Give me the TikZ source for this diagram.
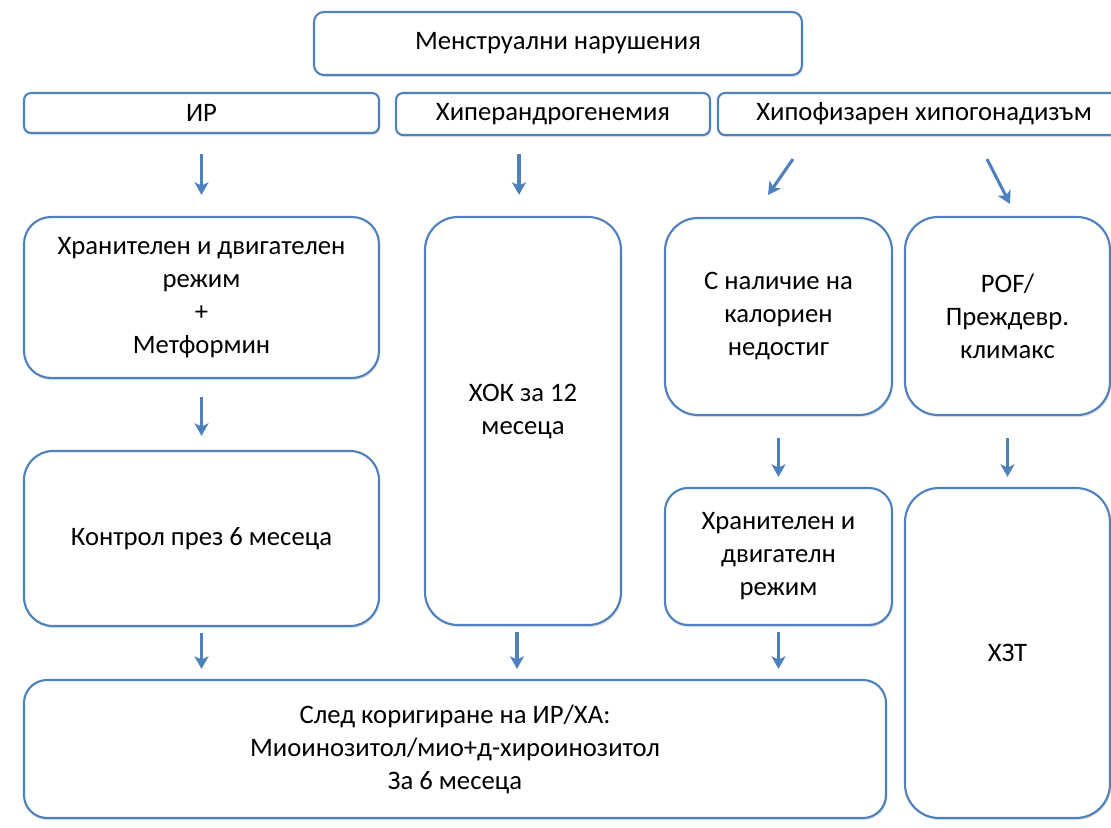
\documentclass[tikz,border=0pt]{standalone}
\usepackage{fontspec}
\setmainfont{Carlito}
\usetikzlibrary{arrows.meta,calc,shadows}
\definecolor{boxblue}{RGB}{79,129,189}

\begin{document}
\begin{tikzpicture}[x=0.75pt,y=-0.75pt,
    box/.style={draw=boxblue, line width=1.6pt, fill=white,
                rounded corners=#1*0.75pt, align=center, inner sep=0pt,
                font=\fontsize{20}{24.75}\selectfont,
                drop shadow={shadow xshift=0.8pt, shadow yshift=-1.6pt,
                             opacity=0.22}},
    size/.style 2 args={minimum width=#1*0.75pt, minimum height=#2*0.75pt},
    arr/.style={draw=boxblue, line width=2.3pt,
                -{Stealth[length=9.5pt,width=10.5pt,inset=2.5pt]}}]
    \useasboundingbox (0,0) rectangle (1111,828);
    % top row
    \node[box=10, size={488}{63}] (menstr) at (558,43.5) {Менструални нарушения};
    \node[box=7, size={355}{40}] (ir) at (201.5,113) {ИР};
    \node[box=7, size={314}{42}] (hyper) at (553,114) {Хиперандрогенемия};
    \node[box=7, size={412}{42}] (hypo) at (924,114) {Хипофизарен хипогонадизъм};
    % middle
    \node[box=27, size={355}{161}] (diet) at (201.5,297.5)
        {Хранителен и двигателен\\режим\\+\\Метформин};
    \node[box=33, size={196}{408}] (hok) at (523,421)
        {\rule{0pt}{28pt}ХОК за 12\\месеца\\\strut};
    \node[box=33, size={227}{197}] (kcal) at (778.5,316.5)
        {С наличие на\\калориен\\недостиг};
    \node[box=33, size={205}{198}] (pof) at (1007.5,316)
        {POF/\\Преждевр.\\климакс};
    \node[box=29, size={355}{175}] (ctrl) at (201.5,538.5)
        {Контрол през 6 месеца};
    \node[box=23, size={227}{137}] (diet2) at (778.5,556.5)
        {Хранителен и\\двигателн\\режим};
    \node[box=34, size={205}{330}] (hzt) at (1007.5,653) {ХЗТ};
    % bottom
    \node[box=23, size={862}{138}] (myo) at (455,749)
        {След коригиране на ИР/ХА:\\Миоинозитол/мио+д-хироинозитол\\За 6 месеца};

    % arrows
    \draw[arr, shorten <=15pt, shorten >=15.75pt] (ir) -- (diet);
    \draw[arr, shorten <=13.5pt, shorten >=15.75pt]
        ([xshift=-3pt]hok.north |- hyper.south) -- ([xshift=-3pt]hok.north);
    \draw[arr] ($(hypo.south)+(-131,23)$) -- ($(kcal.north)+(-10.5,-22)$);
    \draw[arr] ($(hypo.south)+(63,23)$) -- ($(pof.north)+(2.5,-12)$);
    \draw[arr, shorten <=13.5pt, shorten >=10.5pt] (diet) -- (ctrl);
    \draw[arr, shorten <=16.5pt, shorten >=7.5pt] (kcal) -- (diet2);
    \draw[arr, shorten <=16.5pt, shorten >=7.5pt] (pof) -- (hzt);
    \draw[arr, shorten <=4.5pt, shorten >=7.5pt] (ctrl.south) -- (ctrl.south |- myo.north);
    \draw[arr, shorten <=4.5pt, shorten >=7.5pt]
        ([xshift=-4.5pt]hok.south) -- ([xshift=-4.5pt]hok.south |- myo.north);
    \draw[arr, shorten <=4.5pt, shorten >=7.5pt] (diet2.south) -- (diet2.south |- myo.north);
\end{tikzpicture}
\end{document}
